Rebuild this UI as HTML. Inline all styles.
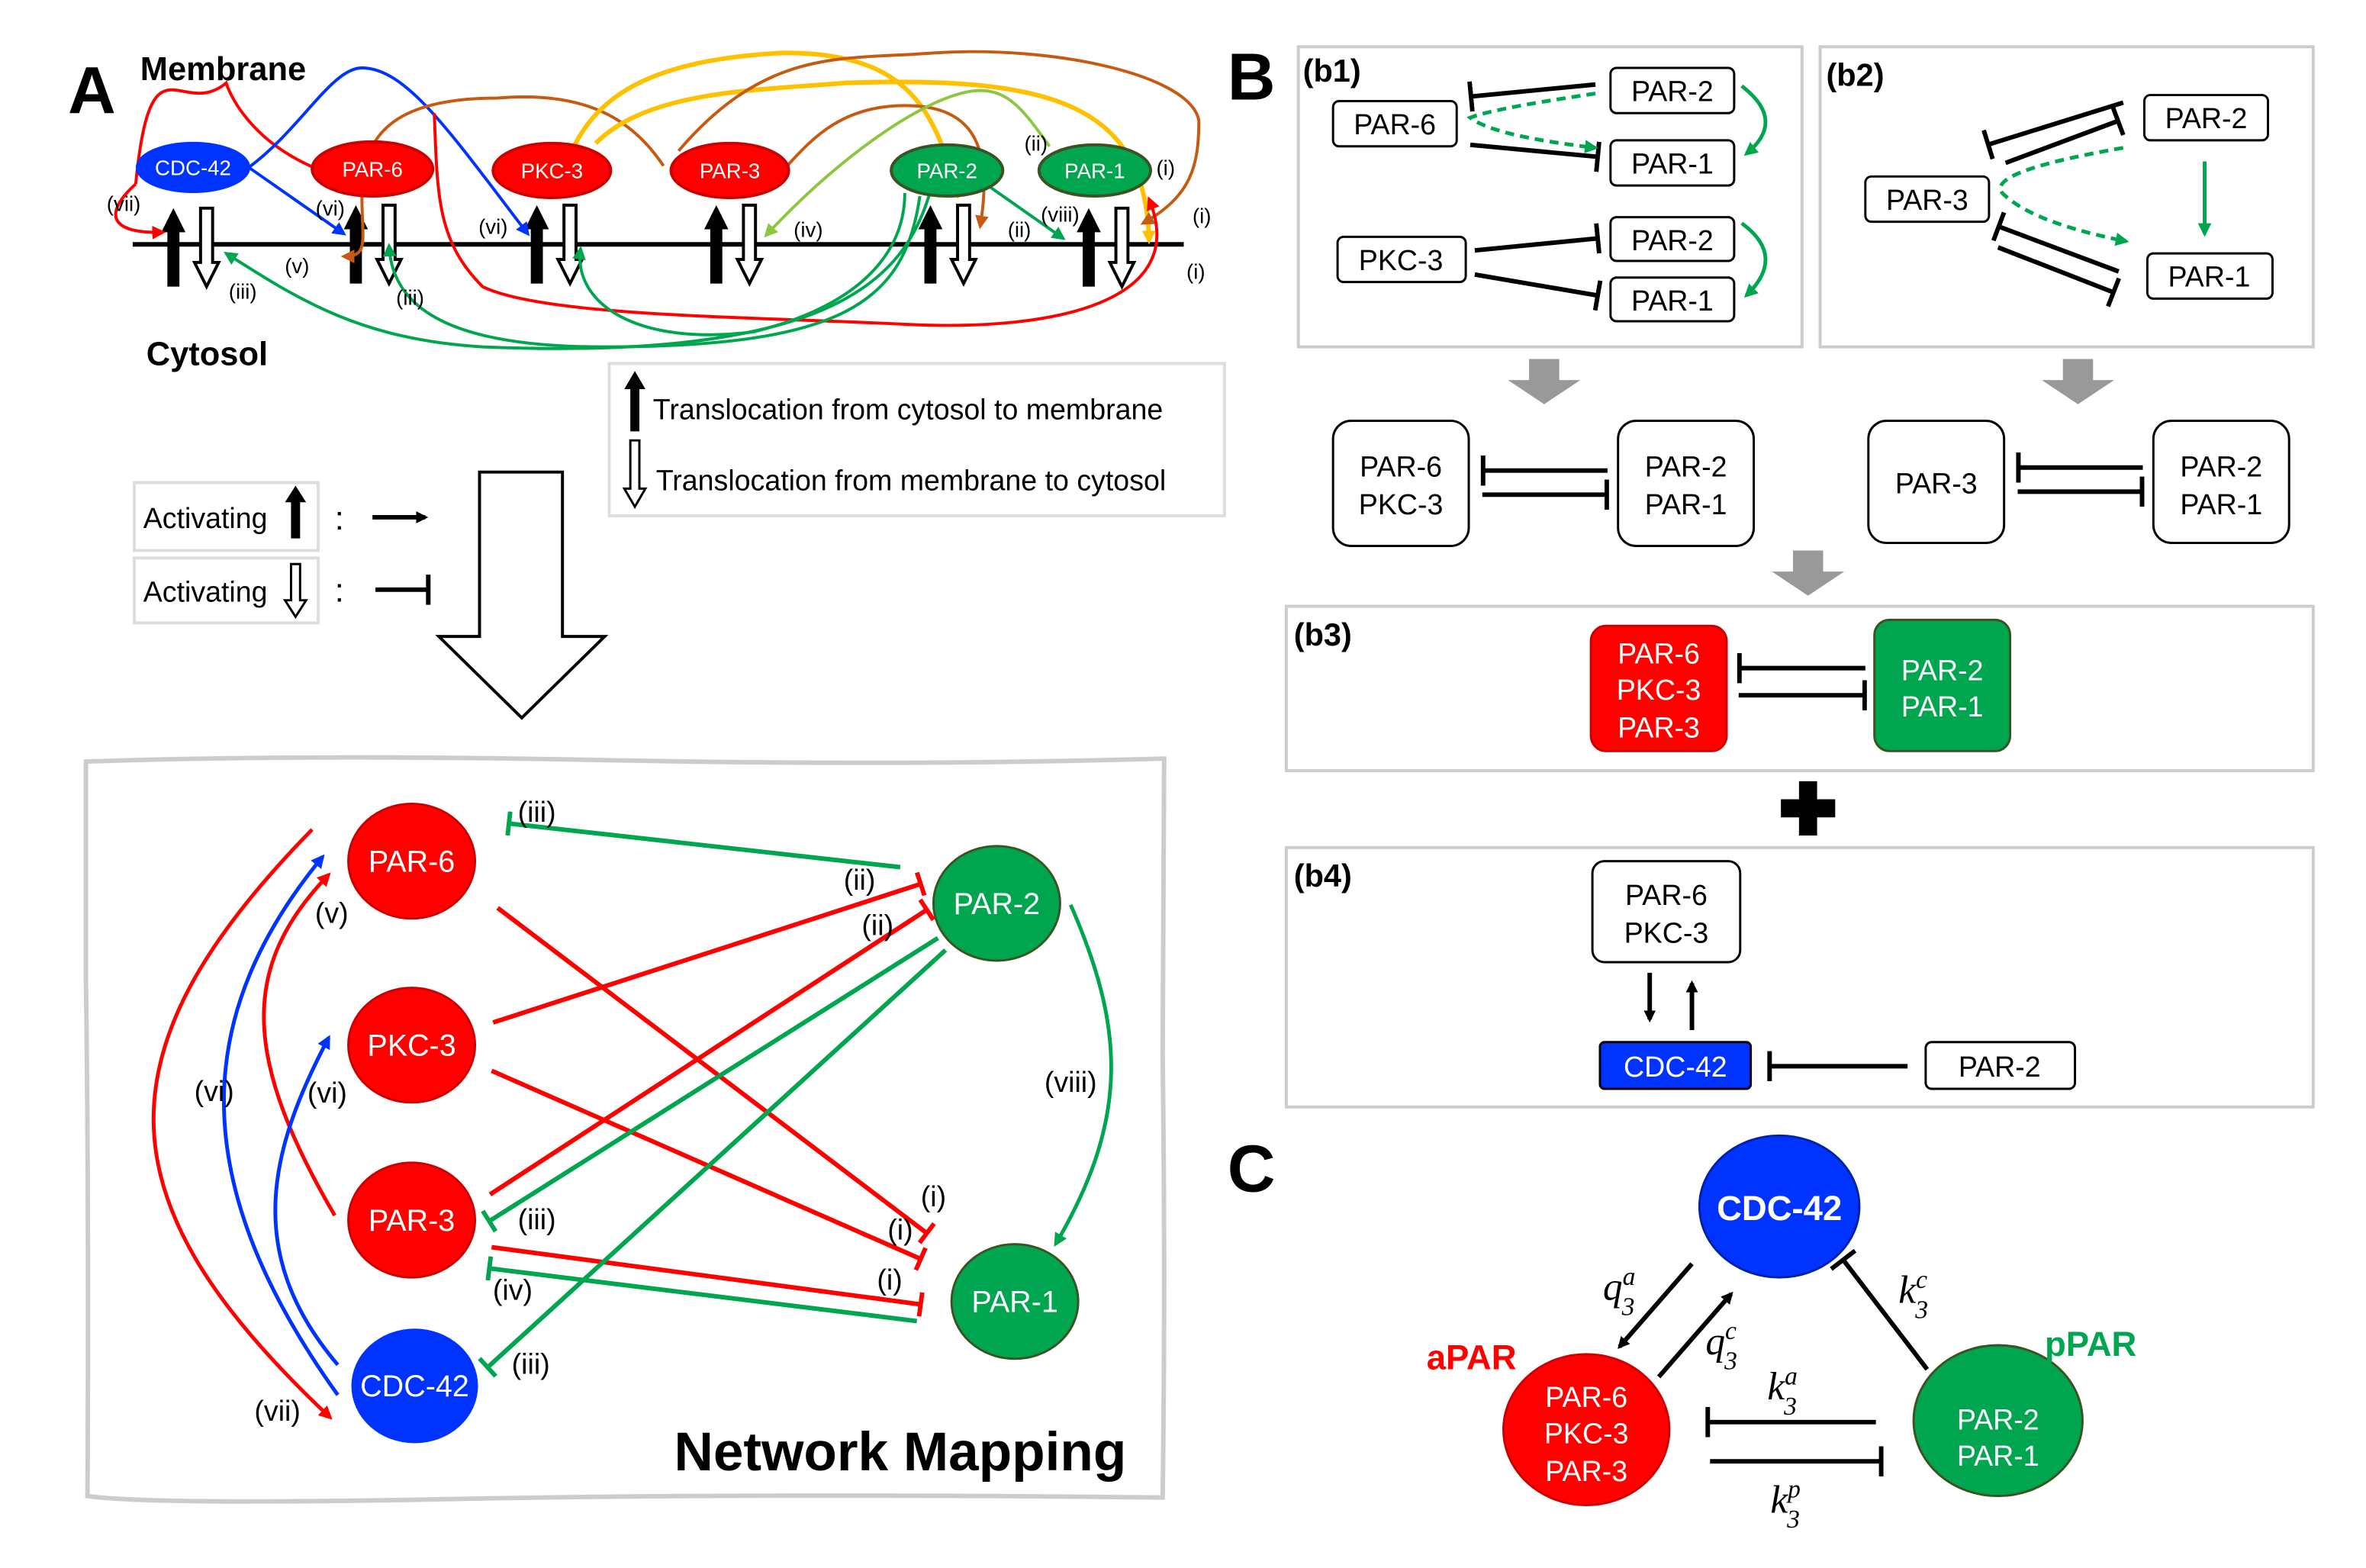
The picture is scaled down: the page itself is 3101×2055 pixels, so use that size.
<!DOCTYPE html>
<html><head><meta charset="utf-8"><style>html,body{margin:0;padding:0;background:#fff}svg{display:block}</style></head><body>
<svg width="3101" height="2055" viewBox="0 0 1569 1039.7" xmlns="http://www.w3.org/2000/svg" font-family="Liberation Sans, sans-serif">
<defs>
<marker id="ab" markerWidth="8" markerHeight="8" refX="6" refY="4" orient="auto" markerUnits="userSpaceOnUse"><path d="M0,0L8,4L0,8z" fill="#000"/></marker>
<marker id="ar" markerWidth="9" markerHeight="9" refX="7" refY="4.5" orient="auto" markerUnits="userSpaceOnUse"><path d="M0,0L9,4.5L0,9z" fill="#f00"/></marker>
<marker id="abl" markerWidth="9" markerHeight="9" refX="7" refY="4.5" orient="auto" markerUnits="userSpaceOnUse"><path d="M0,0L9,4.5L0,9z" fill="#0033ff"/></marker>
<marker id="ag" markerWidth="9" markerHeight="9" refX="7" refY="4.5" orient="auto" markerUnits="userSpaceOnUse"><path d="M0,0L9,4.5L0,9z" fill="#00a64f"/></marker>
<marker id="alg" markerWidth="9" markerHeight="9" refX="7" refY="4.5" orient="auto" markerUnits="userSpaceOnUse"><path d="M0,0L9,4.5L0,9z" fill="#8dc63f"/></marker>
<marker id="ao" markerWidth="9" markerHeight="9" refX="7" refY="4.5" orient="auto" markerUnits="userSpaceOnUse"><path d="M0,0L9,4.5L0,9z" fill="#c55a11"/></marker>
<marker id="ay" markerWidth="9" markerHeight="9" refX="7" refY="4.5" orient="auto" markerUnits="userSpaceOnUse"><path d="M0,0L9,4.5L0,9z" fill="#ffc000"/></marker>
<marker id="tk" markerWidth="4" markerHeight="20" refX="2" refY="10" orient="auto" markerUnits="userSpaceOnUse"><rect x="0" y="0" width="3" height="20" fill="#000"/></marker>
<marker id="tr" markerWidth="4" markerHeight="16" refX="2" refY="8" orient="auto" markerUnits="userSpaceOnUse"><rect x="0" y="0" width="3" height="16" fill="#f00"/></marker>
<marker id="tg" markerWidth="4" markerHeight="16" refX="2" refY="8" orient="auto" markerUnits="userSpaceOnUse"><rect x="0" y="0" width="3" height="16" fill="#00a64f"/></marker>
<g id="upA"><path d="M-4,0V-36H-8L0,-52L8,-36H4V0z" fill="#000"/></g>
<g id="dnA"><path d="M-4,-52V-16H-8L0,0L8,-16H4V-52z" fill="#fff" stroke="#000" stroke-width="2"/></g>
</defs>

<!-- Panel A -->
<text x="45" y="75" font-size="44" font-weight="bold">A</text>
<text x="93" y="53" font-size="22" font-weight="bold">Membrane</text>
<line x1="88" y1="162" x2="785" y2="162" stroke="#000" stroke-width="3"/>
<g>
<use href="#upA" x="115" y="190"/><use href="#dnA" x="137" y="190"/>
<use href="#upA" x="236" y="188"/><use href="#dnA" x="258" y="188"/>
<use href="#upA" x="356" y="188"/><use href="#dnA" x="378" y="188"/>
<use href="#upA" x="475" y="188"/><use href="#dnA" x="497" y="188"/>
<use href="#upA" x="617" y="188"/><use href="#dnA" x="639" y="188"/>
<use href="#upA" x="722" y="190"/><use href="#dnA" x="744" y="190"/>
</g>
<g fill="none" stroke-width="2">
<path d="M90,122C100,20 120,80 150,55C150,55 160,90 208,111" stroke="#f00"/>
<path d="M90,122C70,140 70,155 108,154" stroke="#f00" marker-end="url(#ar)"/>
<path d="M165,111L228,155" stroke="#0033ff" marker-end="url(#abl)"/>
<path d="M165,111C200,85 220,45 240,45C270,45 300,90 350,155" stroke="#0033ff" marker-end="url(#abl)"/>
<path d="M440,110C420,80 390,60 330,65C260,65 240,90 240,130C240,160 245,170 228,170" stroke="#c55a11" marker-end="url(#ao)"/>
<path d="M375,110C390,70 420,40 520,35C600,35 620,70 635,130" stroke="#ffc000" marker-end="url(#ay)" stroke-width="3"/>
<path d="M395,95C430,60 500,60 560,55C700,50 760,70 762,160" stroke="#ffc000" marker-end="url(#ay)" stroke-width="3"/>
<path d="M450,100C510,30 560,40 620,35C700,30 790,50 795,80C795,110 790,130 758,148" stroke="#c55a11" marker-end="url(#ao)"/>
<path d="M522,110C540,90 560,70 600,70C640,70 660,90 650,150" stroke="#c55a11" marker-end="url(#ao)"/>
<path d="M696,97C680,75 670,60 650,60C620,60 560,100 508,156" stroke="#8dc63f" marker-end="url(#alg)"/>
<path d="M288,115C290,170 290,200 320,230C360,250 500,250 600,255C700,260 790,240 762,172" stroke="#f00" marker-end="url(#ar)" transform="translate(0,-40)"/>
<path d="M600,128C600,160 580,200 500,220C420,230 380,200 385,165" stroke="#00a64f" marker-end="url(#ag)"/>
<path d="M610,130C600,200 560,230 400,230C290,230 260,200 258,163" stroke="#00a64f" marker-end="url(#ag)"/>
<path d="M616,130C600,180 560,240 320,230C240,225 200,200 150,168" stroke="#00a64f" marker-end="url(#ag)"/>
<path d="M648,118L705,158" stroke="#00a64f" marker-end="url(#ag)"/>
</g>
<g fill="#fff" font-size="14" text-anchor="middle">
<ellipse cx="128" cy="111" rx="38" ry="17" fill="#0033ff"/><text x="128" y="116">CDC-42</text>
<ellipse cx="247" cy="112" rx="40" ry="18" fill="#f00" stroke="#c00" stroke-width="2"/><text x="247" y="117" fill="#fff">PAR-6</text>
<ellipse cx="366" cy="113" rx="39" ry="18" fill="#f00" stroke="#c00" stroke-width="2"/><text x="366" y="118" fill="#fff">PKC-3</text>
<ellipse cx="484" cy="113" rx="39" ry="18" fill="#f00" stroke="#c00" stroke-width="2"/><text x="484" y="118" fill="#fff">PAR-3</text>
<ellipse cx="628" cy="113" rx="37" ry="17" fill="#00a64f" stroke="#3b5323" stroke-width="2"/><text x="628" y="118" fill="#fff">PAR-2</text>
<ellipse cx="726" cy="113" rx="37" ry="17" fill="#00a64f" stroke="#3b5323" stroke-width="2"/><text x="726" y="118" fill="#fff">PAR-1</text>
</g>
<g font-size="14" text-anchor="middle">
<text x="82" y="140">(vii)</text><text x="219" y="143">(vi)</text><text x="327" y="155">(vi)</text><text x="197" y="181">(v)</text>
<text x="161" y="198">(iii)</text><text x="272" y="202">(iii)</text><text x="536" y="157">(iv)</text>
<text x="687" y="100">(ii)</text><text x="676" y="157">(ii)</text><text x="703" y="147">(viii)</text>
<text x="773" y="116">(i)</text><text x="797" y="148">(i)</text><text x="793" y="185">(i)</text>
</g>
<text x="97" y="242" font-size="22" font-weight="bold">Cytosol</text>

<rect x="404" y="241" width="408" height="101" fill="#fff" stroke="#ddd" stroke-width="2"/>
<path d="M418,286V258H414L421,246L428,258H424V286z" fill="#000"/>
<text x="433" y="278" font-size="19">Translocation from cytosol to membrane</text>
<path d="M418,292V324H414L421,336L428,324H424V292z" fill="#fff" stroke="#000" stroke-width="1.5"/>
<text x="435" y="325" font-size="19">Translocation from membrane to cytosol</text>

<rect x="89" y="320" width="122" height="45" fill="#fff" stroke="#ddd" stroke-width="2"/>
<text x="95" y="350" font-size="19">Activating</text>
<path d="M193,357V333H189L196,322L203,333H199V357z" fill="#000"/>
<rect x="89" y="370" width="122" height="43" fill="#fff" stroke="#ddd" stroke-width="2"/>
<text x="95" y="399" font-size="19">Activating</text>
<path d="M193,374V398H189L196,409L203,398H199V374z" fill="#fff" stroke="#000" stroke-width="1.5"/>
<text x="222" y="351" font-size="22">:</text><text x="222" y="399" font-size="22">:</text>
<line x1="247" y1="343" x2="282" y2="343" stroke="#000" stroke-width="3" marker-end="url(#ab)"/>
<line x1="249" y1="391" x2="284" y2="391" stroke="#000" stroke-width="3"/><line x1="284" y1="381" x2="284" y2="401" stroke="#000" stroke-width="3"/>

<path d="M318,313H373V422H401L346,476L291,422H318z" fill="#fff" stroke="#000" stroke-width="2"/>

<path d="M57,505Q200,500 400,504T772,503L771,700Q773,850 771,993Q500,990 300,994T58,992Q59,800 57,650Z" fill="#fff" stroke="#ccc" stroke-width="3"/>
<g fill="none" stroke-width="3">
<path d="M597,575L337,546" stroke="#00a64f" marker-end="url(#tg)"/>
<path d="M327,678L611,586" stroke="#f00" marker-end="url(#tr)"/>
<path d="M325,792L615,603" stroke="#f00" marker-end="url(#tr)"/>
<path d="M330,602L615,818" stroke="#f00" marker-end="url(#tr)"/>
<path d="M326,710L611,835" stroke="#f00" marker-end="url(#tr)"/>
<path d="M326,827L611,865" stroke="#f00" marker-end="url(#tr)"/>
<path d="M622,622L324,810" stroke="#00a64f" marker-end="url(#tg)"/>
<path d="M608,876L324,841" stroke="#00a64f" marker-end="url(#tg)"/>
<path d="M627,630L323,907" stroke="#00a64f" marker-end="url(#tg)"/>
<path d="M710,600C745,680 750,740 700,825" stroke="#00a64f" stroke-width="2.5" marker-end="url(#ag)"/>
<path d="M207,550C60,700 70,800 219,940" stroke="#f00" stroke-width="2.5" marker-end="url(#ar)"/>
<path d="M224,925C120,780 130,670 214,568" stroke="#0033ff" stroke-width="2.5" marker-end="url(#abl)"/>
<path d="M222,806C160,700 160,640 218,580" stroke="#f00" stroke-width="2.5" marker-end="url(#ar)"/>
<path d="M224,905C160,830 180,760 218,688" stroke="#0033ff" stroke-width="2.5" marker-end="url(#abl)"/>
</g>
<g font-size="20" text-anchor="middle" fill="#fff">
<ellipse cx="273" cy="571" rx="42" ry="38" fill="#f00" stroke="#c00" stroke-width="1.5"/><text x="273" y="578">PAR-6</text>
<ellipse cx="273" cy="693" rx="42" ry="38" fill="#f00" stroke="#c00" stroke-width="1.5"/><text x="273" y="700">PKC-3</text>
<ellipse cx="273" cy="809" rx="42" ry="38" fill="#f00" stroke="#c00" stroke-width="1.5"/><text x="273" y="816">PAR-3</text>
<ellipse cx="275" cy="919" rx="42" ry="38" fill="#0033ff"/><text x="275" y="926">CDC-42</text>
<ellipse cx="661" cy="599" rx="42" ry="38" fill="#00a64f" stroke="#3b5323" stroke-width="1.5"/><text x="661" y="606">PAR-2</text>
<ellipse cx="673" cy="863" rx="42" ry="38" fill="#00a64f" stroke="#3b5323" stroke-width="1.5"/><text x="673" y="870">PAR-1</text>
</g>
<g font-size="19" text-anchor="middle">
<text x="356" y="545">(iii)</text><text x="220" y="612">(v)</text><text x="142" y="730">(vi)</text><text x="217" y="731">(vi)</text>
<text x="710" y="724">(viii)</text><text x="570" y="590">(ii)</text><text x="582" y="620">(ii)</text>
<text x="356" y="815">(iii)</text><text x="340" y="862">(iv)</text><text x="352" y="911">(iii)</text><text x="184" y="942">(vii)</text>
<text x="619" y="800">(i)</text><text x="597" y="822">(i)</text><text x="590" y="855">(i)</text>
</g>
<text x="447" y="975" font-size="36" font-weight="bold">Network Mapping</text>

<!-- Panel B -->
<text x="814" y="66" font-size="44" font-weight="bold">B</text>
<rect x="861" y="31" width="334" height="199" fill="#fff" stroke="#ccc" stroke-width="2"/>
<rect x="1207" y="31" width="327" height="199" fill="#fff" stroke="#ccc" stroke-width="2"/>
<text x="864" y="54" font-size="21" font-weight="bold">(b1)</text>
<text x="1211" y="57" font-size="21" font-weight="bold">(b2)</text>
<g font-size="19" text-anchor="middle">
<rect x="884" y="67" width="82" height="30" rx="4" fill="#fff" stroke="#000" stroke-width="1.5"/><text x="925" y="89">PAR-6</text>
<rect x="1068" y="45" width="82" height="30" rx="4" fill="#fff" stroke="#000" stroke-width="1.5"/><text x="1109" y="67">PAR-2</text>
<rect x="1068" y="93" width="82" height="30" rx="4" fill="#fff" stroke="#000" stroke-width="1.5"/><text x="1109" y="115">PAR-1</text>
<rect x="887" y="157" width="85" height="30" rx="4" fill="#fff" stroke="#000" stroke-width="1.5"/><text x="929" y="179">PKC-3</text>
<rect x="1068" y="144" width="82" height="29" rx="4" fill="#fff" stroke="#000" stroke-width="1.5"/><text x="1109" y="166">PAR-2</text>
<rect x="1068" y="184" width="82" height="29" rx="4" fill="#fff" stroke="#000" stroke-width="1.5"/><text x="1109" y="206">PAR-1</text>
<rect x="1237" y="117" width="82" height="30" rx="4" fill="#fff" stroke="#000" stroke-width="1.5"/><text x="1278" y="139">PAR-3</text>
<rect x="1422" y="63" width="82" height="30" rx="4" fill="#fff" stroke="#000" stroke-width="1.5"/><text x="1463" y="85">PAR-2</text>
<rect x="1424" y="168" width="83" height="30" rx="4" fill="#fff" stroke="#000" stroke-width="1.5"/><text x="1465" y="190">PAR-1</text>
</g>
<g fill="none" stroke="#000" stroke-width="3">
<path d="M1058,56L975,64" marker-end="url(#tk)"/>
<path d="M975,96L1060,104" marker-end="url(#tk)"/>
<path d="M978,166L1060,158" marker-end="url(#tk)"/>
<path d="M978,182L1060,196" marker-end="url(#tk)"/>
<path d="M1408,68L1318,96" marker-end="url(#tk)"/>
<path d="M1330,108L1405,80" marker-end="url(#tk)"/>
<path d="M1405,180L1325,150" marker-end="url(#tk)"/>
<path d="M1325,164L1402,194" marker-end="url(#tk)"/>
</g>
<g fill="none" stroke="#00a64f" stroke-width="2.5">
<path d="M1058,62Q990,72 975,78Q990,90 1058,98" stroke-dasharray="6,4" marker-end="url(#ag)"/>
<path d="M1155,57Q1185,80 1158,102" marker-end="url(#ag)"/>
<path d="M1155,148Q1185,170 1158,196" marker-end="url(#ag)"/>
<path d="M1408,98Q1310,115 1330,130Q1350,148 1410,160" stroke-dasharray="6,4" marker-end="url(#ag)"/>
<path d="M1462,107V155" marker-end="url(#ag)"/>
</g>
<path d="M1014,238H1034V252H1048L1024,268L1000,252H1014z" fill="#999"/>
<path d="M1368,238H1388V252H1402L1378,268L1354,252H1368z" fill="#999"/>
<path d="M1189,365H1209V379H1223L1199,395L1175,379H1189z" fill="#999"/>
<g font-size="19" text-anchor="middle">
<rect x="884" y="279" width="90" height="83" rx="12" fill="#fff" stroke="#000" stroke-width="1.5"/><text x="929" y="316">PAR-6</text><text x="929" y="341">PKC-3</text>
<rect x="1073" y="279" width="90" height="83" rx="12" fill="#fff" stroke="#000" stroke-width="1.5"/><text x="1118" y="316">PAR-2</text><text x="1118" y="341">PAR-1</text>
<rect x="1239" y="279" width="90" height="81" rx="12" fill="#fff" stroke="#000" stroke-width="1.5"/><text x="1284" y="327">PAR-3</text>
<rect x="1428" y="279" width="90" height="81" rx="12" fill="#fff" stroke="#000" stroke-width="1.5"/><text x="1473" y="316">PAR-2</text><text x="1473" y="341">PAR-1</text>
</g>
<g fill="none" stroke="#000" stroke-width="3">
<path d="M1066,312H983" marker-end="url(#tk)"/><path d="M983,328H1066" marker-end="url(#tk)"/>
<path d="M1421,310H1338" marker-end="url(#tk)"/><path d="M1338,326H1421" marker-end="url(#tk)"/>
</g>
<rect x="853" y="402" width="681" height="109" fill="#fff" stroke="#ccc" stroke-width="2"/>
<text x="858" y="428" font-size="21" font-weight="bold">(b3)</text>
<rect x="1055" y="415" width="90" height="83" rx="10" fill="#f00" stroke="#c00" stroke-width="1.5"/>
<rect x="1243" y="411" width="90" height="87" rx="10" fill="#00a64f" stroke="#3b5323" stroke-width="1.5"/>
<g font-size="19" text-anchor="middle" fill="#fff">
<text x="1100" y="440">PAR-6</text><text x="1100" y="464">PKC-3</text><text x="1100" y="489">PAR-3</text>
<text x="1288" y="451">PAR-2</text><text x="1288" y="475">PAR-1</text>
</g>
<g fill="none" stroke="#000" stroke-width="3">
<path d="M1237,443H1153" marker-end="url(#tk)"/><path d="M1153,461H1237" marker-end="url(#tk)"/>
</g>
<path d="M1193,518H1205V530H1217V542H1205V554H1193V542H1181V530H1193z" fill="#000"/>
<rect x="853" y="562" width="681" height="172" fill="#fff" stroke="#ccc" stroke-width="2"/>
<text x="858" y="588" font-size="21" font-weight="bold">(b4)</text>
<rect x="1056" y="571" width="98" height="67" rx="8" fill="#fff" stroke="#000" stroke-width="1.5"/>
<text x="1105" y="600" font-size="19" text-anchor="middle">PAR-6</text><text x="1105" y="625" font-size="19" text-anchor="middle">PKC-3</text>
<rect x="1061" y="691" width="100" height="31" rx="3" fill="#0033ff" stroke="#000" stroke-width="1.5"/>
<text x="1111" y="714" font-size="19" text-anchor="middle" fill="#fff">CDC-42</text>
<rect x="1277" y="691" width="99" height="31" rx="4" fill="#fff" stroke="#000" stroke-width="1.5"/>
<text x="1326" y="714" font-size="19" text-anchor="middle">PAR-2</text>
<g fill="none" stroke="#000" stroke-width="3">
<path d="M1094,645V676" marker-end="url(#ab)"/><path d="M1122,683V652" marker-end="url(#ab)"/>
<path d="M1265,707H1173" marker-end="url(#tk)"/>
</g>

<!-- Panel C -->
<text x="814" y="790" font-size="44" font-weight="bold">C</text>
<ellipse cx="1180" cy="800" rx="53" ry="47" fill="#0033ff" stroke="#0022aa" stroke-width="1.5"/>
<text x="1180" y="809" font-size="23" font-weight="bold" fill="#fff" text-anchor="middle">CDC-42</text>
<ellipse cx="1052" cy="948" rx="55" ry="50" fill="#f00" stroke="#c00" stroke-width="1.5"/>
<g font-size="19" fill="#fff" text-anchor="middle"><text x="1052" y="933">PAR-6</text><text x="1052" y="957">PKC-3</text><text x="1052" y="982">PAR-3</text></g>
<ellipse cx="1325" cy="942" rx="56" ry="50" fill="#00a64f" stroke="#3b5323" stroke-width="1.5"/>
<g font-size="19" fill="#fff" text-anchor="middle"><text x="1325" y="948">PAR-2</text><text x="1325" y="972">PAR-1</text></g>
<text x="946" y="908" font-size="23" font-weight="bold" fill="#f00">aPAR</text>
<text x="1356" y="899" font-size="23" font-weight="bold" fill="#00a64f">pPAR</text>
<g fill="none" stroke="#000" stroke-width="3">
<path d="M1122,838L1074,893" marker-end="url(#ab)"/>
<path d="M1100,913L1148,858" marker-end="url(#ab)"/>
<path d="M1278,908L1222,835" marker-end="url(#tk)"/>
<path d="M1244,943H1132" marker-end="url(#tk)"/>
<path d="M1134,969H1248" marker-end="url(#tk)"/>
</g>
<g font-family="Liberation Serif, serif" font-style="italic" font-size="26">
<text x="1063" y="862">q<tspan font-size="17" dy="-10">a</tspan><tspan font-size="17" dx="-9" dy="20">3</tspan></text>
<text x="1131" y="898">q<tspan font-size="17" dy="-10">c</tspan><tspan font-size="17" dx="-8" dy="20">3</tspan></text>
<text x="1259" y="864">k<tspan font-size="17" dy="-10">c</tspan><tspan font-size="17" dx="-8" dy="20">3</tspan></text>
<text x="1172" y="928">k<tspan font-size="17" dy="-10">a</tspan><tspan font-size="17" dx="-9" dy="20">3</tspan></text>
<text x="1174" y="1003">k<tspan font-size="17" dy="-10">p</tspan><tspan font-size="17" dx="-9" dy="20">3</tspan></text>
</g>
</svg>
</body></html>
